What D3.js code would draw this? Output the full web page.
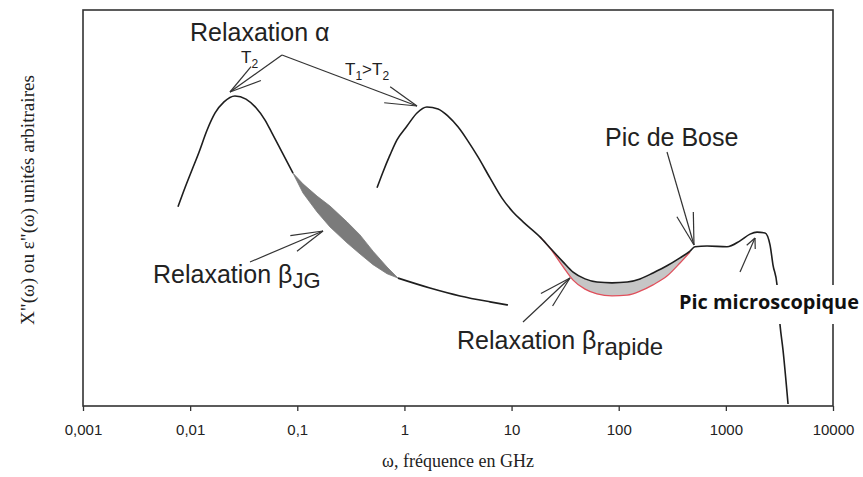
<!DOCTYPE html>
<html>
<head>
<meta charset="utf-8">
<script src="https://cdn.jsdelivr.net/npm/d3@7"></script>
<style>
  body { margin: 0; background: #fff; }
  svg { display: block; }
</style>
</head>
<body>
<svg id="chart" width="863" height="477"></svg>
<script>
// x axis: frequency in GHz (log), y: arbitrary units 0..100
var tickValues = [0.001, 0.01, 0.1, 1, 10, 100, 1000, 10000];
var tickLabels = ["0,001", "0,01", "0,1", "1", "10", "100", "1000", "10000"];

// alpha relaxation at T2 (pure alpha under the beta JG spindle)
var freqT2 = [0.0077, 0.00895, 0.0104, 0.0121, 0.0144, 0.0171, 0.0207, 0.0262, 0.0332, 0.0412, 0.0500, 0.0581, 0.0720,
              0.0912, 0.113, 0.153, 0.202, 0.291, 0.385, 0.509, 0.688, 0.871,
              1.73, 3.30, 6.29, 9.26];
var valT2 = [50.3, 55.1, 59.6, 64.1, 69.7, 74.0, 76.8, 78.3, 77.5, 75.3, 72.2, 68.9, 64.1,
             58.8, 53.8, 49.0, 45.2, 41.2, 38.4, 35.7, 33.4, 32.3,
             29.8, 27.8, 26.3, 25.5];

// beta JG contribution (upper edge of the spindle)
var freqJG = [0.0912, 0.113, 0.153, 0.202, 0.291, 0.385, 0.509, 0.688, 0.871];
var valJG = [58.8, 56.1, 53.0, 50.5, 46.5, 43.2, 39.1, 35.1, 32.3];

// alpha relaxation at T1 > T2, fast relaxation, Bose peak, microscopic peak
var freqT1 = [0.555, 0.631, 0.734, 0.852, 1.057, 1.31, 1.62, 2.06, 2.55, 3.16, 3.92, 4.86, 6.29, 8.14, 10.3, 12.8, 18.4,
              22.9, 30.2, 37.5, 48.5, 62.7, 86.6, 120, 158, 209, 282, 373, 463,
              515, 667, 1025, 1356, 1681, 1954, 2320, 2583, 2755, 3003, 3203, 3416, 3805];
var valT1 = [55.1, 59.1, 63.4, 67.2, 70.7, 74.0, 75.5, 75.0, 73.2, 70.5, 66.9, 62.9, 57.6, 52.5, 49.0, 46.5, 42.7,
             39.9, 36.4, 33.8, 32.1, 31.3, 31.1, 31.3, 32.1, 33.6, 35.4, 37.4, 39.1,
             40.2, 40.4, 40.2, 41.7, 43.4, 43.9, 43.7, 40.7, 35.6, 30.6, 20.5, 14.1, 0.5];

// curve without the fast beta relaxation (red)
var freqFast = [18.4, 22.9, 30.2, 37.5, 48.5, 62.7, 86.6, 120, 158, 209, 282, 373, 463];
var valNoFast = [42.7, 39.8, 35.2, 31.8, 29.5, 28.3, 27.8, 28.0, 29.0, 30.6, 32.8, 36.1, 38.9];

var svg = d3.select("#chart");
var margin = {left: 83, right: 30, top: 10, bottom: 71};
var W = 863, H = 477;

var x = d3.scaleLog().domain([0.001, 10000]).range([margin.left, W - margin.right]);
var y = d3.scaleLinear().domain([0, 100]).range([H - margin.bottom, margin.top]);

var pts = function (fs, vs) { return fs.map(function (f, i) { return [f, vs[i]]; }); };
var line = d3.line().x(function (d) { return x(d[0]); }).y(function (d) { return y(d[1]); });
var smooth = d3.line().x(function (d) { return x(d[0]); }).y(function (d) { return y(d[1]); }).curve(d3.curveMonotoneX);

// frame
svg.append("rect")
    .attr("x", x(0.001)).attr("y", y(100))
    .attr("width", x(10000) - x(0.001)).attr("height", y(0) - y(100))
    .attr("fill", "none").attr("stroke", "#333").attr("stroke-width", 1.6);

// x axis
var axis = svg.append("g")
    .attr("transform", "translate(0," + y(0) + ")")
    .call(d3.axisBottom(x).tickValues(tickValues)
        .tickFormat(function (d, i) { return tickLabels[i]; })
        .tickSize(5).tickPadding(13));
axis.select(".domain").remove();
axis.selectAll("line").attr("stroke", "#333").attr("stroke-width", 1.3);
axis.selectAll("text").attr("font-family", "Liberation Sans, Arial, sans-serif")
    .attr("font-size", 15).attr("fill", "#222");

// axis titles
svg.append("text")
    .attr("x", (x(0.001) + x(10000)) / 2).attr("y", 467)
    .attr("text-anchor", "middle")
    .attr("font-family", "Liberation Serif, Times New Roman, serif")
    .attr("font-size", 18).attr("fill", "#222")
    .text("ω, fréquence en GHz");

svg.append("text")
    .attr("transform", "translate(34,200) rotate(-90)")
    .attr("text-anchor", "middle")
    .attr("font-family", "Liberation Serif, Times New Roman, serif")
    .attr("font-size", 18).attr("fill", "#222")
    .attr("textLength", 250).attr("lengthAdjust", "spacingAndGlyphs")
    .text("X\"(ω) ou ε\"(ω) unités arbitraires");

// beta JG spindle (grey)
var t2 = pts(freqT2, valT2);
var jg = pts(freqJG, valJG);
var lowJG = t2.filter(function (d) { return d[0] >= freqJG[0] && d[0] <= freqJG[freqJG.length - 1]; });
svg.append("path")
    .attr("d", line(jg.concat(lowJG.slice().reverse())) + "Z")
    .attr("fill", "#7b7b7b").attr("stroke", "#7b7b7b").attr("stroke-width", 0.8);

// fast beta relaxation (light grey between black and red)
var t1 = pts(freqT1, valT1);
var fastUp = t1.filter(function (d) { return d[0] >= freqFast[0] && d[0] <= freqFast[freqFast.length - 1]; });
var fastLow = pts(freqFast, valNoFast);
svg.append("path")
    .datum(fastLow.map(function (d, i) { return [d[0], d[1], fastUp[i][1]]; }))
    .attr("d", d3.area().x(function (d) { return x(d[0]); })
        .y0(function (d) { return y(d[1]); }).y1(function (d) { return y(d[2]); })
        .curve(d3.curveMonotoneX))
    .attr("fill", "#c6c6c6");
svg.append("path")
    .attr("d", smooth(fastLow))
    .attr("fill", "none").attr("stroke", "#e0505c").attr("stroke-width", 1.3);

// T2 curve, drawn around the spindle
var t2a = t2.filter(function (d) { return d[0] <= freqJG[0]; });
var t2b = t2.filter(function (d) { return d[0] >= freqJG[freqJG.length - 1]; });
[t2a, t2b].forEach(function (seg) {
    svg.append("path").attr("d", smooth(seg))
        .attr("fill", "none").attr("stroke", "#1e1e1e").attr("stroke-width", 1.6);
});

// T1 curve
svg.append("path").attr("d", smooth(t1))
    .attr("fill", "none").attr("stroke", "#1e1e1e").attr("stroke-width", 1.6);

// annotations
function arrow(x1, y1, x2, y2, len, ang) {
    var a = Math.atan2(y1 - y2, x1 - x2);
    var r = ang * Math.PI / 180;
    var g = svg.append("g").attr("stroke", "#333").attr("stroke-width", 1.2).attr("fill", "none");
    g.append("line").attr("x1", x1).attr("y1", y1).attr("x2", x2).attr("y2", y2);
    [a - r, a + r].forEach(function (b) {
        g.append("line").attr("x1", x2).attr("y1", y2)
            .attr("x2", x2 + len * Math.cos(b)).attr("y2", y2 + len * Math.sin(b));
    });
}

var sans = "Liberation Sans, Arial, sans-serif";

function label(px, py, main, sub, size, subSize, dy) {
    var t = svg.append("text").attr("x", px).attr("y", py)
        .attr("font-family", sans).attr("font-size", size).attr("fill", "#222");
    t.append("tspan").text(main);
    if (sub) t.append("tspan").attr("dy", dy).attr("font-size", subSize).text(sub);
    return t;
}

label(190, 41, "Relaxation α", null, 25);
arrow(282, 55, 230, 92, 33, 15);
arrow(282, 55, 417, 106, 33, 15);

label(241, 63, "T", "2", 17, 12, 5);
var tt = svg.append("text").attr("x", 345).attr("y", 75)
    .attr("font-family", sans).attr("font-size", 17).attr("fill", "#222");
tt.append("tspan").text("T");
tt.append("tspan").attr("dy", 5).attr("font-size", 12).text("1");
tt.append("tspan").attr("dy", -5).text(">T");
tt.append("tspan").attr("dy", 5).attr("font-size", 12).text("2");

label(153, 283, "Relaxation β", "JG", 25, 22, 5);
arrow(250, 262, 323, 231, 33, 15);

label(605, 146, "Pic de Bose", null, 25);
arrow(667, 152, 694, 245, 33, 15);

label(457, 349, "Relaxation β", "rapide", 25, 24, 6);
arrow(523, 322, 570, 278, 33, 15);

arrow(740, 272, 755, 238, 11, 25);

// microscopic peak label sits on a white box that hides the curve and frame
svg.append("rect").attr("x", 676).attr("y", 285).attr("width", 187).attr("height", 39).attr("fill", "#fff");
svg.append("text").attr("x", 679).attr("y", 309)
    .attr("font-family", "Open Sans, Noto Sans, sans-serif")
    .attr("font-weight", "bold").attr("font-size", 20).attr("fill", "#111")
    .attr("textLength", 180).attr("lengthAdjust", "spacingAndGlyphs")
    .text("Pic microscopique");
</script>
</body>
</html>
